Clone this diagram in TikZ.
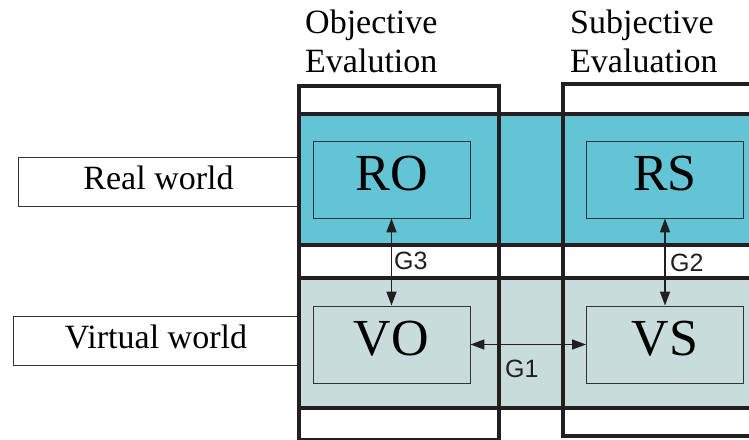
\documentclass[tikz,border=0pt]{standalone}
\usepackage{fontspec}
\setmainfont{Liberation Serif}
\newfontfamily\labelsans{Liberation Sans}
\usetikzlibrary{arrows.meta}
\definecolor{realcyan}{HTML}{62C4D4}
\definecolor{virtgray}{HTML}{C8DCDC}
\definecolor{linedark}{HTML}{231F20}
\definecolor{boxedge}{HTML}{333333}
\tikzset{
  colbox/.style={draw=linedark, line width=3.3pt},
  bandline/.style={draw=linedark, line width=3.2pt},
  innerbox/.style={draw=boxedge, line width=0.9pt, minimum width=157pt, minimum height=77pt, inner sep=0pt, text depth=13pt, font=\fontsize{52}{52}\selectfont},
  worldbox/.style={draw=boxedge, line width=0.9pt, minimum height=49pt, inner sep=0pt, text depth=7pt, font=\fontsize{34}{34}\selectfont},
  header/.style={anchor=north west, inner sep=0pt, align=left, font=\fontsize{34}{39}\selectfont},
  glabel/.style={inner sep=0pt, font=\labelsans\fontsize{25}{25}\selectfont, text=linedark},
  garrow/.style={line width=1.6pt, draw=linedark, fill=linedark, >={Triangle[length=14pt,width=10pt]}, <->}
}
\begin{document}
\begin{tikzpicture}[x=1pt,y=-1pt]
\useasboundingbox (0,0) rectangle (749,439);
\clip (0,0) rectangle (749,439);
\fill[white] (0,0) rectangle (749,439);
% bands
\fill[realcyan] (299,114) rectangle (760,245);
\fill[virtgray] (299,278) rectangle (760,408);
\draw[bandline] (299,114) -- (760,114);
\draw[bandline] (299,245) -- (760,245);
\draw[bandline] (299,278) -- (760,278);
\draw[bandline] (299,408) -- (760,408);
% world labels
\node[worldbox, minimum width=281pt] (real) at (158.5,181.5) {Real world};
\node[worldbox, minimum width=286pt] (virtual) at (156,340.5) {Virtual world};
% column boxes
\draw[colbox] (299,86) rectangle (499,440);
\draw[colbox] (563,84) rectangle (770,436);
% headers
\node[header] (objhead) at (305,10) {Objective\\Evalution};
\node[header] (subhead) at (570,10) {Subjective\\Evaluation};
% inner boxes
\node[innerbox, fill=realcyan] (ro) at (391.5,179.5) {RO};
\node[innerbox, fill=realcyan] (rs) at (665,179.5) {RS};
\node[innerbox, fill=virtgray] (vo) at (391.5,344.5) {VO};
\node[innerbox, fill=virtgray] (vs) at (665,344.5) {VS};
% arrows
\draw[garrow] (ro.south) -- (vo.north);
\draw[garrow] (rs.south) -- (vs.north);
\draw[garrow] (vo.east) -- (vs.west);
% labels
\node[glabel, anchor=west] (g3) at (394,261) {G3};
\node[glabel, anchor=west] (g2) at (670,263) {G2};
\node[glabel, anchor=west] (g1) at (505,369) {G1};
\end{tikzpicture}
\end{document}
